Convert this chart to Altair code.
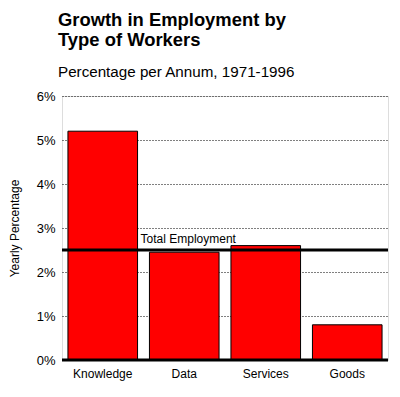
import altair as alt
import pandas as pd

categories = ["Knowledge", "Data", "Services", "Goods"]
values = [5.2, 2.45, 2.6, 0.8]
total_employment = 2.5
total_label = "Total Employment"
y_ticks = [0, 1, 2, 3, 4, 5, 6]

df = pd.DataFrame({"category": categories, "value": values})
FONT = "Liberation Sans"

x_scale = alt.Scale(domain=categories, paddingInner=0.146, paddingOuter=0.073)
x_enc = alt.X("category:N", sort=None, title=None, scale=x_scale,
              axis=alt.Axis(domain=False, ticks=False, labelAngle=0, labelPadding=8,
                            labelFontSize=12, labelColor="black", labelFont=FONT))
y_enc = alt.Y("value:Q", title="Yearly Percentage",
              scale=alt.Scale(domain=[0, 6]),
              axis=alt.Axis(values=y_ticks, labelExpr="datum.value + '%'",
                            domain=False, ticks=False, labelPadding=7,
                            labelFontSize=13, labelColor="black", labelFont=FONT,
                            titleFontSize=12, titleFontWeight="normal", titleFont=FONT,
                            titleColor="black", titlePadding=15,
                            grid=True, gridColor="black", gridDash=[1, 2], gridWidth=1))

bars = alt.Chart(df).mark_bar(color="#FF0000", stroke="black", strokeWidth=1).encode(
    x=x_enc, y=y_enc)

zero = alt.Chart(pd.DataFrame({"v": [0]})).mark_rule(color="black", strokeWidth=3).encode(
    y=alt.Y("v:Q"))
total = alt.Chart(pd.DataFrame({"v": [total_employment]})).mark_rule(color="black", strokeWidth=3).encode(
    y=alt.Y("v:Q"))
label = alt.Chart(pd.DataFrame({"v": [total_employment], "c": ["Knowledge"], "t": [total_label]})).mark_text(
    align="left", baseline="alphabetic", dx=3, dy=-7, fontSize=12, font=FONT, color="black").encode(
    x=alt.X("c:N", sort=None, scale=x_scale, bandPosition=1), y=alt.Y("v:Q"), text="t:N")

chart = alt.layer(bars, zero, total, label).properties(
    width=326, height=264,
    title=alt.TitleParams(
        text=["Growth in Employment by", "Type of Workers"],
        subtitle="Percentage per Annum, 1971-1996",
        anchor="start", frame="group", dx=-4, font=FONT, fontSize=18.4, fontWeight="bold",
        color="black", subtitleFont=FONT, subtitleFontSize=15.2, subtitleColor="black",
        subtitlePadding=15, offset=10, lineHeight=20),
).configure_view(stroke=None).configure(padding={"left": 0, "top": 3, "right": 0, "bottom": 3})

chart.save("out.html", embed_options={"renderer": "svg", "actions": False})
